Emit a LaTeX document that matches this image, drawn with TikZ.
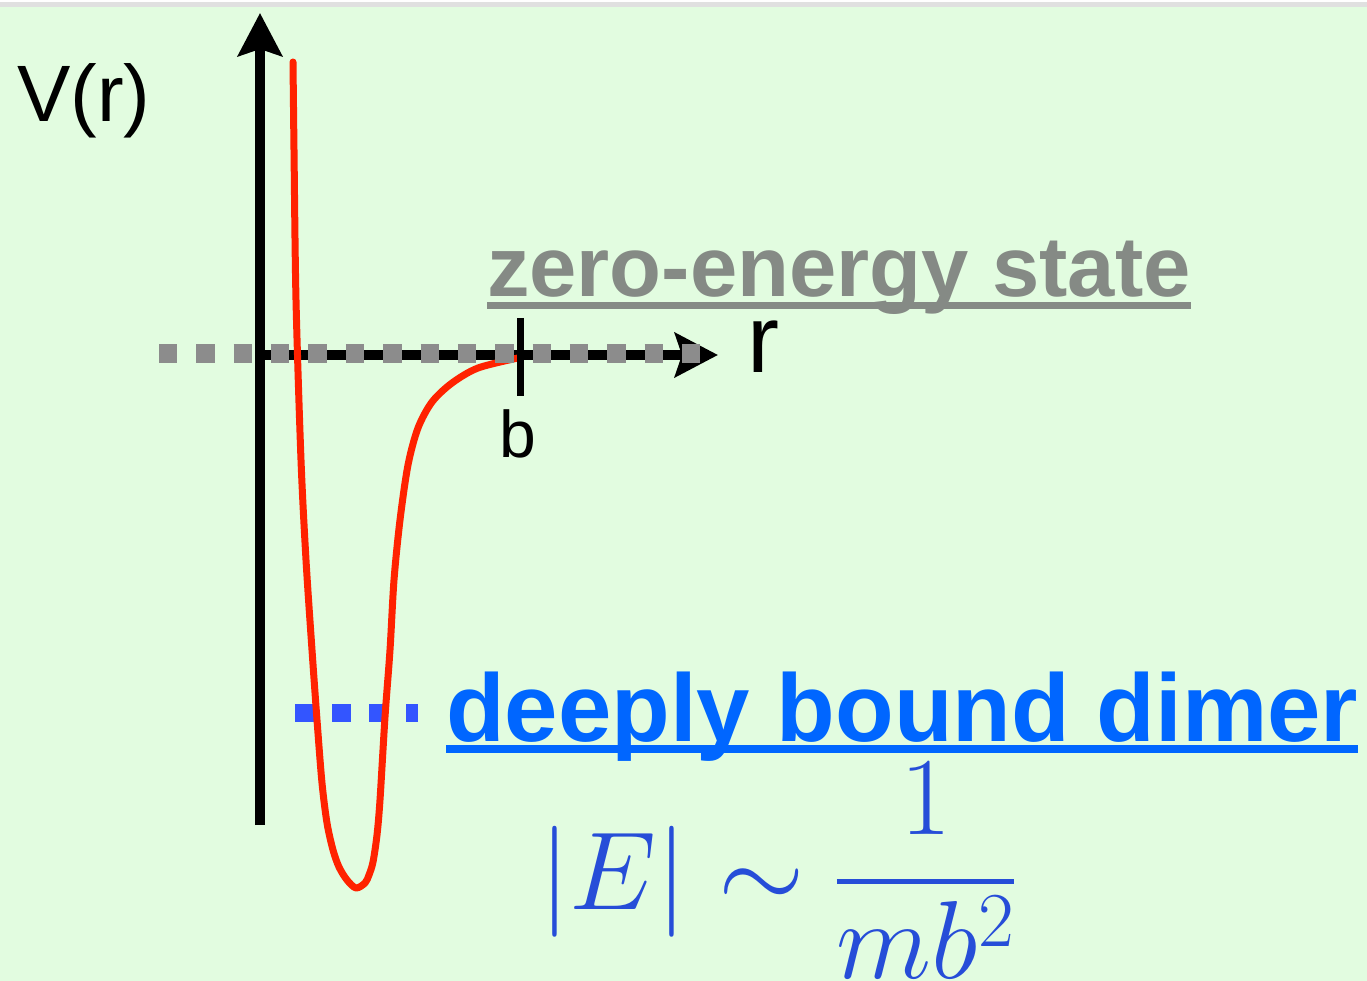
\RequirePackage{fix-cm}
\documentclass[tikz,border=0pt]{standalone}
\usepackage{mathtools}
\usepackage[no-math]{fontspec}
\newfontfamily\lsans{Liberation Sans}
\usetikzlibrary{arrows.meta}
\definecolor{bggreen}{RGB}{226,252,224}
\definecolor{topgray}{RGB}{224,224,224}
\definecolor{curvered}{RGB}{255,34,0}
\definecolor{zgray}{RGB}{133,138,133}
\definecolor{dashgray}{RGB}{140,140,140}
\definecolor{dblue}{RGB}{0,102,255}
\definecolor{dashblue}{RGB}{51,85,255}
\definecolor{fblue}{RGB}{38,77,216}
\tikzset{
  axis/.style={line width=10pt, black, -{Stealth[length=43pt, width=44pt, inset=7pt]}},
  lbl/.style={inner sep=0pt, outer sep=0pt},
  sqdash/.style={line width=19pt, dash pattern=on 18.4pt off 18.96pt},
}
\begin{document}
\begin{tikzpicture}[x=1pt, y=-1pt]
\useasboundingbox (0,0) rectangle (1367,981);
\fill[white] (0,0) rectangle (1367,2);
\fill[topgray] (0,2) rectangle (1367,7);
\fill[bggreen] (0,7) rectangle (1367,981);

% coordinates
\coordinate (ybot) at (260,825);
\coordinate (ytop) at (260,13);
\coordinate (xl) at (255,355);
\coordinate (xr) at (718,355);
\coordinate (tickt) at (520,318);
\coordinate (tickb) at (520,396);
\coordinate (gl) at (159,353);
\coordinate (gr) at (701,353);
\coordinate (bl) at (295,713);
\coordinate (br) at (418,713);

% axes
\draw[axis] (ybot) -- (ytop);
\draw[axis] (xl) -- (xr);

% blue dashed level
\draw[dashblue, line width=18pt, dash pattern=on 18.5pt off 18.5pt] (bl) -- (br);

% potential curve
\draw[curvered, line width=7pt, line join=round, line cap=round]
  plot[smooth, tension=0.5] coordinates {
  (293,62) (294,150) (296,300) (301,460) (306,560) (312,650) (317,720)
  (322,783) (327,823) (333,850) (339,867) (347,880) (356,888) (365,883)
  (369,875) (373,862) (377,835) (380,800) (385,717) (390,650) (394,580)
  (400,520) (408,465) (418,428) (432,402) (452,383) (478,368) (518,358)};

% gray dashed zero level
\draw[dashgray, sqdash] (gl) -- (gr);

% tick at b
\draw[black, line width=7pt] (tickt) -- (tickb);

% labels
\node[lbl, anchor=base west, font=\lsans\fontsize{80}{80}\selectfont] (vr) at (17,122) {V(r)};
\node[lbl, anchor=base, font=\lsans\fontsize{66}{66}\selectfont] (blab) at (518,457) {b};
\node[lbl, anchor=base west, font=\lsans\fontsize{96}{96}\selectfont] (rlab) at (747,372) {r};

\node[lbl, anchor=base west, text=zgray, font=\lsans\bfseries\fontsize{85}{85}\selectfont] (zes) at (487,297) {zero-energy state};
\fill[zgray] ([yshift=-5pt]zes.base west) rectangle ([yshift=-12pt]zes.base east);

\node[lbl, anchor=base west, text=dblue, font=\lsans\bfseries\fontsize{96}{96}\selectfont] (dbd) at (446,741) {deeply bound dimer};
\fill[dblue] ([yshift=-4pt]dbd.base west) rectangle ([yshift=-12pt]dbd.base east);

\node[lbl, anchor=base west, text=fblue, font=\fontsize{111}{133}\selectfont] (form) at (539,909)
  {$\displaystyle |E|\sim\genfrac{}{}{5pt}{1}{\raisebox{31pt}{$1$}}{\raisebox{-31pt}{$\cramped{mb^2}$}}$};
\end{tikzpicture}
\end{document}
